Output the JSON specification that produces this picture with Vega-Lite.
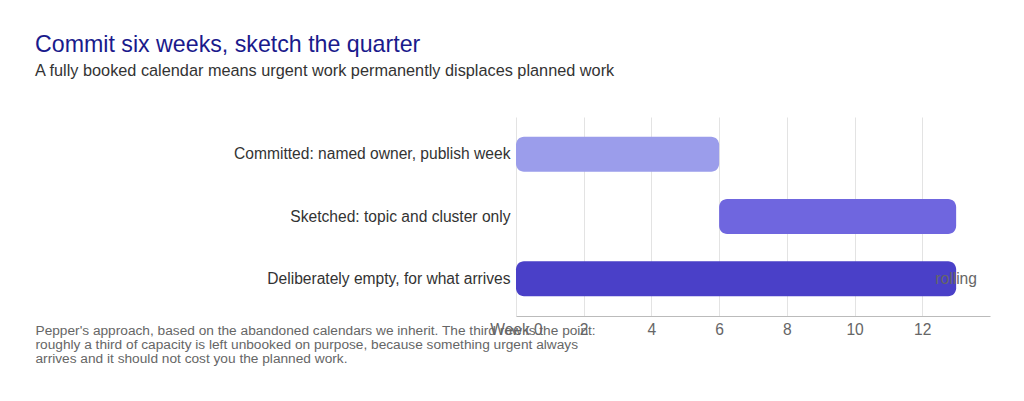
{
  "$schema": "https://vega.github.io/schema/vega-lite/v6.json",
  "autosize": "none",
  "width": 474,
  "height": 199,
  "padding": {"left": 516, "top": 117, "right": 34, "bottom": 85},
  "background": "white",
  "config": {
    "font": "Liberation Sans",
    "view": {"stroke": null}
  },
  "title": {
    "text": "Commit six weeks, sketch the quarter",
    "subtitle": "A fully booked calendar means urgent work permanently displaces planned work",
    "anchor": "start",
    "frame": "group",
    "dx": -481,
    "offset": 37,
    "fontSize": 23.2,
    "fontWeight": "normal",
    "color": "#1a1a8c",
    "subtitleFontSize": 16.3,
    "subtitleColor": "#333333",
    "subtitlePadding": 6
  },
  "data": {
    "values": [
      {"task": "Committed: named owner, publish week", "start": 0, "end": 6, "note": ""},
      {"task": "Sketched: topic and cluster only", "start": 6, "end": 13, "note": ""},
      {"task": "Deliberately empty, for what arrives", "start": 0, "end": 13, "note": "rolling"}
    ]
  },
  "encoding": {
    "y": {
      "field": "task",
      "type": "nominal",
      "sort": null,
      "scale": {"paddingInner": 0, "paddingOuter": 0.1},
      "axis": {
        "title": null,
        "ticks": false,
        "domain": false,
        "labelFontSize": 15.6,
        "labelColor": "#333333",
        "labelPadding": 6,
        "labelLimit": 400
      }
    }
  },
  "layer": [
    {
      "mark": {"type": "bar", "size": 35, "cornerRadius": 8},
      "encoding": {
        "x": {
          "field": "start",
          "type": "quantitative",
          "scale": {"domain": [0, 14], "nice": false},
          "axis": {
            "values": [0, 2, 4, 6, 8, 10, 12],
            "labelExpr": "datum.value == 0 ? 'Week 0' : datum.label",
            "labelFlush": false,
            "labelFontSize": 15.6,
            "labelColor": "#666666",
            "labelPadding": 6,
            "ticks": false,
            "domainColor": "#bbbbbb",
            "gridColor": "#e3e3e3",
            "title": [
              "Pepper's approach, based on the abandoned calendars we inherit. The third row is the point:",
              "roughly a third of capacity is left unbooked on purpose, because something urgent always",
              "arrives and it should not cost you the planned work."
            ],
            "titleX": -481,
            "titleY": 7,
            "titleAlign": "left",
            "titleBaseline": "top",
            "titleAnchor": "start",
            "titleFontSize": 13.7,
            "titleFontWeight": "normal",
            "titleColor": "#666666",
            "titleLineHeight": 14
          }
        },
        "x2": {"field": "end"},
        "color": {
          "field": "task",
          "type": "nominal",
          "scale": {
            "domain": [
              "Committed: named owner, publish week",
              "Sketched: topic and cluster only",
              "Deliberately empty, for what arrives"
            ],
            "range": ["#9b9deb", "#6f66df", "#4a40c8"]
          },
          "legend": null
        }
      }
    },
    {
      "transform": [{"filter": "datum.note != ''"}],
      "mark": {"type": "text", "fontSize": 15.6, "color": "#666666", "align": "center"},
      "encoding": {
        "x": {"field": "end", "type": "quantitative"},
        "text": {"field": "note"}
      }
    }
  ]
}
